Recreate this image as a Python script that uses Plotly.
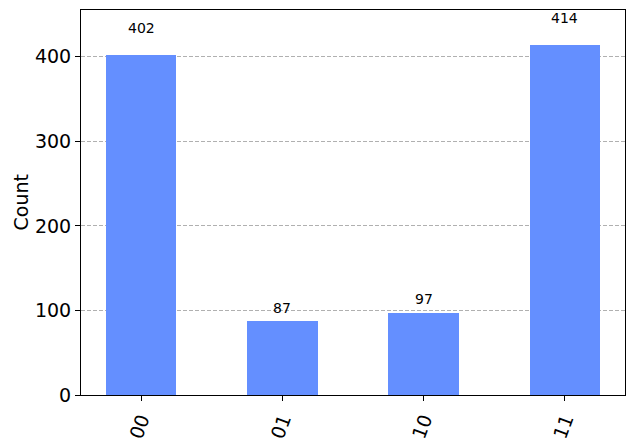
import plotly.graph_objects as go

states = ["00", "01", "10", "11"]
counts = [402, 87, 97, 414]
y_ticks = [0, 100, 200, 300, 400]

bar_color = "#648fff"
font_family = "DejaVu Sans"

fig = go.Figure()
fig.add_trace(go.Bar(
    x=list(range(len(states))), y=counts, width=0.5,
    marker=dict(color=bar_color, line=dict(width=0)),
    hoverinfo="skip",
))

for i, v in enumerate(counts):
    fig.add_annotation(x=i, y=1.05 * v, text=str(v), showarrow=False,
                       xanchor="center", yanchor="bottom",
                       font=dict(family=font_family, size=14, color="black"))

fig.add_annotation(xref="paper", yref="paper", x=(20 - 81) / 544, y=0.5,
                   text="Count", textangle=-90, showarrow=False,
                   xanchor="center", yanchor="middle",
                   font=dict(family=font_family, size=19, color="black"))

fig.update_layout(
    width=633, height=444,
    margin=dict(l=81, r=8, t=10, b=49, autoexpand=False),
    plot_bgcolor="white", paper_bgcolor="white",
    showlegend=False,
    bargap=0,
    font=dict(family=font_family, color="black"),
)
fig.update_xaxes(
    range=[-0.425, 3.425], tickmode="array",
    tickvals=list(range(len(states))), ticktext=states,
    tickangle=-70, tickfont=dict(size=19, family=font_family),
    ticks="outside", ticklen=5, tickwidth=1, tickcolor="black",
    showline=True, linecolor="black", linewidth=1, mirror=True,
    showgrid=False, zeroline=False, automargin=False,
)
fig.update_yaxes(
    range=[0, 414 * 1.1], tickmode="array", tickvals=y_ticks,
    tickfont=dict(size=19, family=font_family),
    ticks="outside", ticklen=5, tickwidth=1, tickcolor="black",
    showline=True, linecolor="black", linewidth=1, mirror=True,
    showgrid=True, gridcolor="#b0b0b0", gridwidth=1, griddash="4px,2px",
    zeroline=False, automargin=False,
)

fig.write_html(
    "out.html",
    config={"displayModeBar": False, "staticPlot": True},
    post_script="document.body.style.margin='0';document.body.style.overflow='hidden';",
)
